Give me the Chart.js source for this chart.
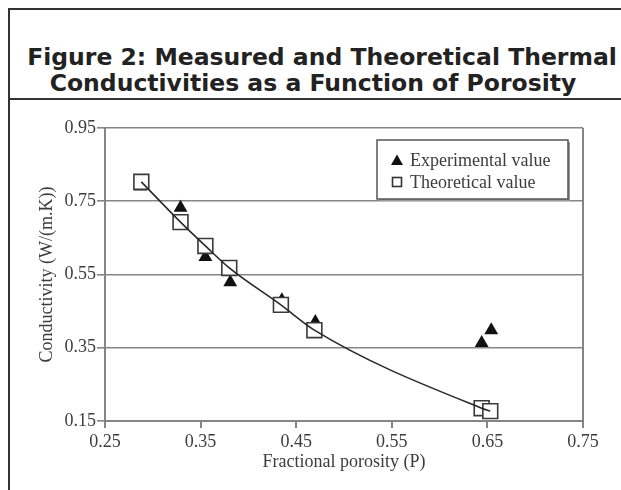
<!DOCTYPE html>
<html>
<head>
<meta charset="utf-8">
<script src="https://cdn.jsdelivr.net/npm/chart.js@4/dist/chart.umd.min.js"></script>
<style>
html,body{margin:0;padding:0;background:#fff;width:621px;height:490px;overflow:hidden}
.frame{position:absolute;left:8px;top:8px;width:640px;height:500px;border-left:2px solid #333;border-top:2px solid #333}
.head{position:absolute;left:0;top:0;width:624px;height:90px;border-bottom:2px solid #333;box-sizing:border-box}
.head h1{margin:0;padding-top:34px;font-family:"DejaVu Sans",sans-serif;font-weight:bold;font-size:23.5px;line-height:26px;text-align:center;color:#222}
.head h1 span{position:relative;left:-9px}
#chart{position:absolute;left:0;top:0}
</style>
</head>
<body>
<div class="frame"><div class="head"><h1>Figure 2: Measured and Theoretical Thermal<br><span>Conductivities as a Function of Porosity</span></h1></div></div>
<canvas id="chart" width="621" height="490"></canvas>
<script>

/* ---------------- DATA ---------------- */

const porosityExp = [0.287,0.329,0.355,0.381,0.435,0.470,0.644,0.654]
const conductivityExp = [0.79,0.732,0.598,0.529,0.48,0.42,0.363,0.398]

const porosityTheo = [0.288,0.329,0.355,0.380,0.434,0.469,0.644,0.653]
const conductivityTheo = [0.803,0.693,0.628,0.568,0.467,0.398,0.185,0.177]

const xTicks = [0.25,0.35,0.45,0.55,0.65,0.75]
const yTicks = [0.15,0.35,0.55,0.75,0.95]

const legendLabels = ["Experimental value","Theoretical value"]

const toPoints = (xs,ys) => xs.map((x,i) => ({x:x,y:ys[i]}))

const gridGray = "#858585"
const textGray = "#3c3c3c"
const serif = "'Liberation Serif','Times New Roman',serif"


/* ---------------- LEGEND BOX ---------------- */

const legendBox = {
id:"legendBox",
afterDatasetsDraw(chart){
const ctx = chart.ctx
const a = chart.chartArea
const left = a.right-206, top = a.top+12, w = 191, h = 59

ctx.save()
ctx.fillStyle = "#9a9a9a"
ctx.fillRect(left+2,top+2,w,h)
ctx.fillStyle = "#fff"
ctx.fillRect(left,top,w,h)
ctx.strokeStyle = "#555"
ctx.lineWidth = 1.5
ctx.strokeRect(left,top,w,h)

ctx.font = "18px "+serif
ctx.fillStyle = textGray
ctx.textBaseline = "middle"

const mx = left+20
let y = top+20
ctx.beginPath()
ctx.moveTo(mx,y-5.5)
ctx.lineTo(mx+6,y+5)
ctx.lineTo(mx-6,y+5)
ctx.closePath()
ctx.fillStyle = "#111"
ctx.fill()
ctx.fillStyle = textGray
ctx.fillText(legendLabels[0],left+33,y+1)

y = top+42
ctx.strokeStyle = "#333"
ctx.lineWidth = 1.6
ctx.strokeRect(mx-4.5,y-4.5,9,9)
ctx.fillText(legendLabels[1],left+33,y+1)
ctx.restore()
}
}


/* ---------------- CHART ---------------- */

new Chart(document.getElementById("chart"),{
type:"scatter",
data:{
datasets:[
{
label:"Fit",
data:toPoints(porosityTheo,conductivityTheo),
showLine:true,
pointRadius:0,
borderColor:"#2a2a2a",
borderWidth:1.6,
cubicInterpolationMode:"monotone"
},
{
label:legendLabels[1],
data:toPoints(porosityTheo,conductivityTheo),
pointStyle:"rect",
pointRadius:10.5,
pointBorderWidth:1.6,
pointBorderColor:"#3a3a3a",
pointBackgroundColor:"#fff"
},
{
label:legendLabels[0],
data:toPoints(porosityExp,conductivityExp),
pointStyle:"triangle",
pointRadius:8,
pointBorderWidth:0,
pointBackgroundColor:"#111"
}
]
},
options:{
responsive:false,
animation:false,
devicePixelRatio:1,
layout:{padding:{left:0,top:128,right:38,bottom:14}},
plugins:{legend:{display:false},tooltip:{enabled:false}},
scales:{
x:{
type:"linear",
min:0.25,
max:0.75,
afterBuildTicks:s => {s.ticks = xTicks.map(v => ({value:v}))},
afterFit:s => {s.height = 55},
ticks:{font:{family:serif,size:18},color:textGray,padding:3,maxRotation:0,callback:v => v.toFixed(2)},
grid:{
color:c => c.index === xTicks.length-1 ? gridGray : "transparent",
lineWidth:2,
tickColor:gridGray,
tickLength:7
},
border:{color:gridGray,width:2},
title:{display:true,text:"Fractional porosity (P)",font:{family:serif,size:18},color:textGray,padding:{top:0,bottom:3}}
},
y:{
type:"linear",
min:0.15,
max:0.95,
afterBuildTicks:s => {s.ticks = yTicks.map(v => ({value:v}))},
afterFit:s => {s.width = 105},
ticks:{font:{family:serif,size:18},color:textGray,padding:1,callback:v => v.toFixed(2)},
grid:{color:gridGray,lineWidth:1.6,tickColor:gridGray,tickLength:8},
border:{color:gridGray,width:2},
title:{display:true,text:"Conductivity (W/(m.K))",font:{family:serif,size:18},color:textGray,padding:{top:36,bottom:0}}
}
}
},
plugins:[legendBox]
})

</script>
</body>
</html>
